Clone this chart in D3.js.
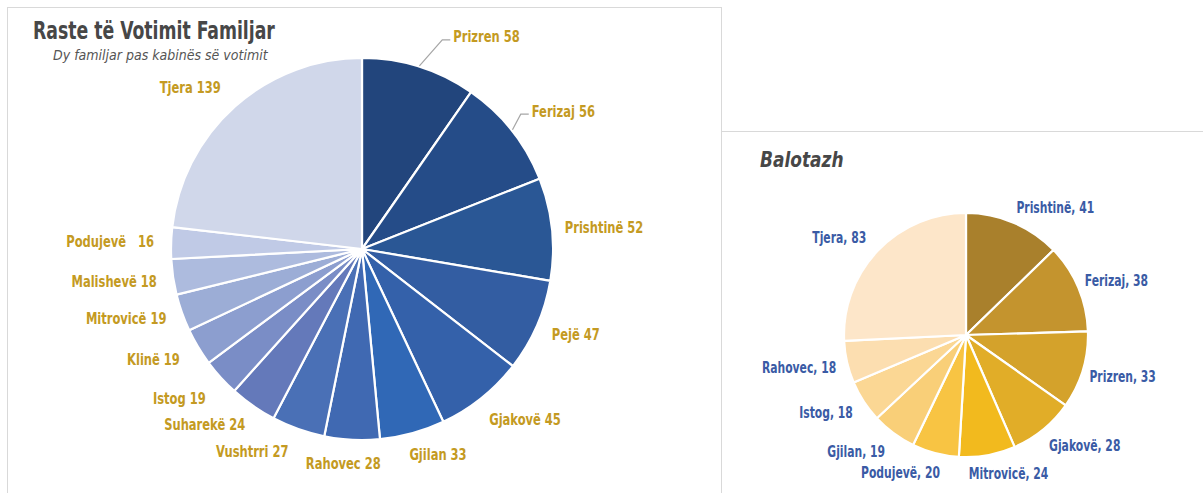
<!DOCTYPE html>
<html>
<head>
<meta charset="utf-8">
<script src="https://cdn.jsdelivr.net/npm/d3@7"></script>
<style>
  body { margin: 0; background: #fff; }
  svg text { font-family: 'Liberation Sans Narrow', 'DejaVu Sans Condensed', Roboto, sans-serif; }
</style>
</head>
<body>
<div id="chart"></div>
<script>
// left pie: family voting cases
var famNames = ["Prizren", "Ferizaj", "Prishtinë", "Pejë", "Gjakovë", "Gjilan", "Rahovec", "Vushtrri",
  "Suharekë", "Istog", "Klinë", "Mitrovicë", "Malishevë", "Podujevë", "Tjera"];
var famValues = [58, 56, 52, 47, 45, 33, 28, 27, 24, 19, 19, 19, 18, 16, 139];
var famColors = ["#22457c", "#254c88", "#2a5795", "#335da2", "#3461aa", "#3068b6", "#4069b2", "#4a70b6",
  "#6479ba", "#7a8dc6", "#8c9ecf", "#9cadd6", "#adbbde", "#c0cae6", "#d0d7ea"];

// right pie: runoff
var balNames = ["Prishtinë", "Ferizaj", "Prizren", "Gjakovë", "Mitrovicë", "Podujevë", "Gjilan", "Istog", "Rahovec", "Tjera"];
var balValues = [41, 38, 33, 28, 24, 20, 19, 18, 18, 83];
var balColors = ["#a9802c", "#c4942e", "#d4a22b", "#e1ad28", "#f2ba1e", "#f8c443", "#f9cf78", "#fbd794", "#fcdeb0", "#fde6c9"];

var W = 1203, H = 493;
var svg = d3.select("#chart").append("svg")
  .attr("width", W)
  .attr("height", H);

// panel frames
svg.append("rect")
  .attr("x", 7.5).attr("y", 7.5)
  .attr("width", 714).attr("height", 500)
  .attr("fill", "none").attr("stroke", "#d9d9d9");
svg.append("path")
  .attr("d", "M721.5,131.5H1210M721.5,131.5V500")
  .attr("fill", "none").attr("stroke", "#d9d9d9");

// titles (squeezed horizontally to look like a narrow face)
svg.append("g")
  .attr("transform", "translate(33,39) scale(0.8,1)")
  .append("text")
  .style("font-size", "24px").style("font-weight", "bold")
  .attr("fill", "#474747")
  .text("Raste të Votimit Familjar");
svg.append("text")
  .attr("x", 53).attr("y", 60)
  .style("font-size", "14px").style("font-style", "italic")
  .attr("fill", "#555")
  .text("Dy familjar pas kabinës së votimit");
svg.append("g")
  .attr("transform", "translate(760,167) scale(0.9,1)")
  .append("text")
  .style("font-size", "21px").style("font-weight", "bold").style("font-style", "italic")
  .attr("fill", "#474747")
  .text("Balotazh");

function drawPie(opt) {
  var data = opt.names.map(function (n, i) { return { name: n, value: opt.values[i] }; });
  var pie = d3.pie().sort(null).value(function (d) { return d.value; });
  var arcs = pie(data);
  var color = d3.scaleOrdinal().domain(opt.names).range(opt.colors);
  var arc = d3.arc().innerRadius(0).outerRadius(opt.r);
  var sx = 0.8;

  var g = svg.append("g")
    .attr("transform", "translate(" + opt.cx + "," + opt.cy + ")");

  g.selectAll("path.slice")
    .data(arcs)
    .enter()
    .append("path")
    .attr("class", "slice")
    .attr("d", arc)
    .attr("fill", function (d) { return color(d.data.name); })
    .attr("stroke", "#fff")
    .attr("stroke-width", 2.2)
    .attr("stroke-linejoin", "round");

  // labels sit on a ring outside the pie
  arcs.forEach(function (d) {
    var mid = (d.startAngle + d.endAngle) / 2;
    var nudge = (opt.nudge[d.data.name] || [0, 0]);
    var a = mid + nudge[0] * Math.PI / 180;
    var lr = opt.labelR + nudge[1];
    var lx = lr * Math.sin(a), ly = -lr * Math.cos(a);
    var t = g.append("g")
      .attr("transform", "translate(" + lx + "," + ly + ") scale(" + sx + ",1)")
      .append("text")
      .attr("text-anchor", "middle")
      .attr("dominant-baseline", "central")
      .style("font-size", opt.fontSize + "px")
      .style("font-weight", "bold")
      .style("white-space", "pre")
      .attr("fill", opt.labelColor)
      .text(opt.fmt(d.data));
    if (opt.leaders.indexOf(d.data.name) >= 0) {
      var w = t.node().getComputedTextLength() * sx;
      var ex = (opt.r + 1) * Math.sin(mid), ey = -(opt.r + 1) * Math.cos(mid);
      var tx = lx - w / 2 - 3, ty = ly + 3;
      g.append("polyline")
        .attr("points", [[ex, ey], [tx - 8, ty], [tx, ty]].join(" "))
        .attr("fill", "none")
        .attr("stroke", "#a6a6a6")
        .attr("stroke-width", 1.2);
    }
  });
}

drawPie({
  names: famNames, values: famValues, colors: famColors,
  cx: 362, cy: 249, r: 191, labelR: 236, fontSize: 16,
  labelColor: "#c49a22",
  fmt: function (d) { return d.name === "Podujevë" ? d.name + "   " + d.value : d.name + " " + d.value; },
  leaders: ["Prizren", "Ferizaj"],
  nudge: { "Prizren": [13, 10], "Ferizaj": [4, 8], "Prishtinë": [1, 7], "Pejë": [-2, -6], "Gjakovë": [-5, 0],
    "Gjilan": [-5, -17], "Rahovec": [2, -21], "Vushtrri": [9, -6], "Suharekë": [7, 0], "Istog": [3, 0],
    "Klinë": [3, 0], "Mitrovicë": [3, 10], "Malishevë": [1, 14], "Podujevë": [0, 16], "Tjera": [-5, 0] }
});

drawPie({
  names: balNames, values: balValues, colors: balColors,
  cx: 966, cy: 335, r: 122, labelR: 160, fontSize: 15,
  labelColor: "#3a5ba5",
  fmt: function (d) { return d.name + ", " + d.value; },
  leaders: [],
  nudge: { "Prishtinë": [12, -4], "Ferizaj": [3, 0], "Prizren": [-2, 2], "Gjakovë": [-8, 2], "Mitrovicë": [-7, -15],
    "Podujevë": [11, -8], "Gjilan": [7, 0], "Istog": [4, 0], "Rahovec": [2, 10], "Tjera": [-6, 0] }
});
</script>
</body>
</html>
